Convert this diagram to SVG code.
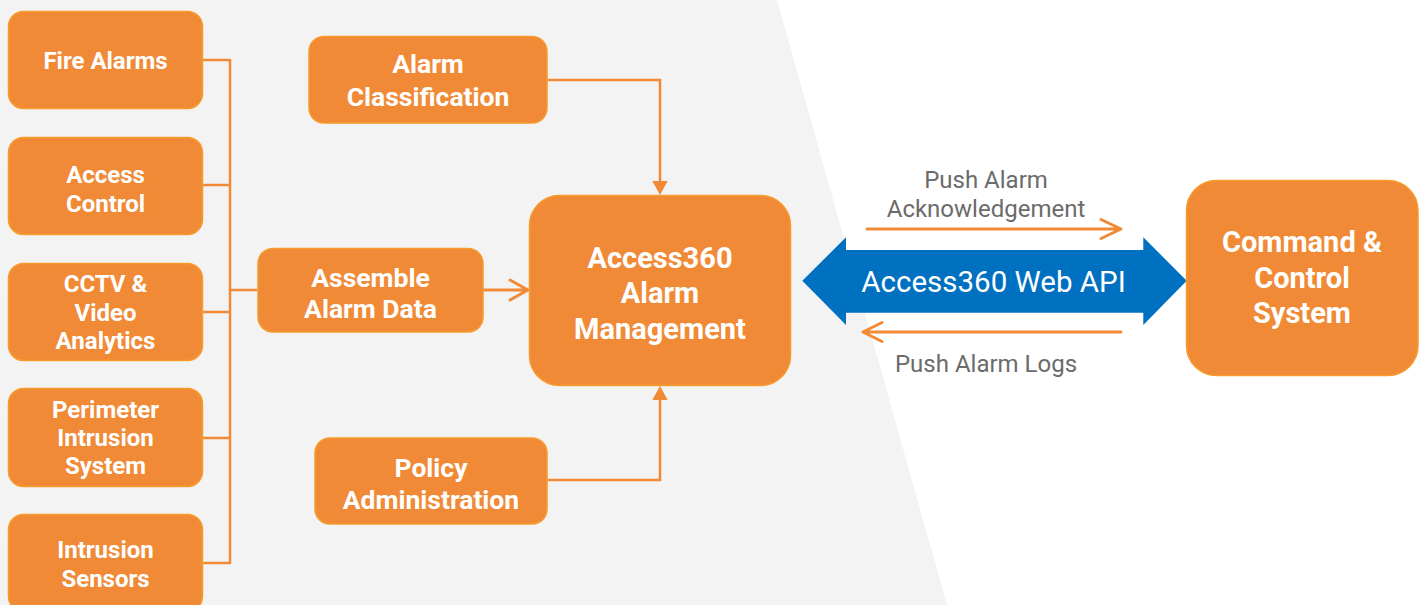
<svg xmlns="http://www.w3.org/2000/svg" width="1427" height="605" viewBox="0 0 1427 605">
<style>
.box{fill:#F18A36;stroke:#F79B2C;stroke-width:1.5}
.t{font-family:Roboto,"Liberation Sans",sans-serif;font-weight:bold;fill:#fff;text-anchor:middle}
.s{font-size:24px}
.m{font-size:26.5px}
.l{font-size:29px}
.lbl{font-family:Roboto,"Liberation Sans",sans-serif;font-size:24px;fill:#6b6b6b;text-anchor:middle}
.api{font-family:Roboto,"Liberation Sans",sans-serif;font-size:29.5px;fill:#fff;text-anchor:middle}
.ln{fill:none;stroke:#F18A36;stroke-width:2.5}
.ar{fill:none;stroke:#F18A36;stroke-width:3;stroke-linecap:round;stroke-linejoin:round}
.head{fill:#F18A36}
</style>
<rect width="1427" height="605" fill="#fff"/>
<polygon points="0,0 777,0 947,605 0,605" fill="#F3F3F3"/>

<g id="connectors">
<path class="ln" d="M203,60H230M203,185H230M203,312H230M203,438H230M203,563H230M230,59V564M230,290H257"/>
<path class="ln" d="M547,80H660V182"/>
<polygon class="head" points="652.3,181 667.7,181 660,195"/>
<path class="ln" d="M547,480H660V399"/>
<polygon class="head" points="652.3,400 667.7,400 660,386"/>
<path class="ar" d="M483,290H527M510,280L528,290L510,300"/>
<path class="ar" d="M867,229H1120M1101,219.5L1121,229L1101,238.5"/>
<path class="ar" d="M1121,332H864M882,322.5L863,332L882,341.5"/>
</g>

<g id="api">
<polygon points="802.3,280.7 846,237.3 846,250 1143.3,250 1143.3,237.3 1186.7,280.7 1143.3,325 1143.3,312.7 846,312.7 846,325" fill="#0070C0"/>
<text class="api" x="993.5" y="291.7">Access360 Web API</text>
<text class="lbl" x="986" y="188.3">Push Alarm</text>
<text class="lbl" x="986" y="217.3">Acknowledgement</text>
<text class="lbl" x="986" y="371.7">Push Alarm Logs</text>
</g>

<g id="fire-alarms">
<rect class="box" x="8.5" y="11.5" width="194" height="97" rx="15"/>
<text class="t s" x="105.5" y="69">Fire Alarms</text>
</g>
<g id="access-control">
<rect class="box" x="8.5" y="137.5" width="194" height="97" rx="15"/>
<text class="t s" x="105.5" y="183.3">Access</text>
<text class="t s" x="105.5" y="211.7">Control</text>
</g>
<g id="cctv">
<rect class="box" x="8.5" y="263.5" width="194" height="97" rx="15"/>
<text class="t s" x="105.5" y="292">CCTV &amp;</text>
<text class="t s" x="105.5" y="320.5">Video</text>
<text class="t s" x="105.5" y="349">Analytics</text>
</g>
<g id="perimeter">
<rect class="box" x="8.5" y="388.5" width="194" height="98" rx="15"/>
<text class="t s" x="105.5" y="417.7">Perimeter</text>
<text class="t s" x="105.5" y="446">Intrusion</text>
<text class="t s" x="105.5" y="474.3">System</text>
</g>
<g id="intrusion-sensors">
<rect class="box" x="8.5" y="514.5" width="194" height="97" rx="15"/>
<text class="t s" x="105.5" y="558.3">Intrusion</text>
<text class="t s" x="105.5" y="586.7">Sensors</text>
</g>

<g id="alarm-classification">
<rect class="box" x="309" y="36.5" width="238" height="86.5" rx="15"/>
<text class="t m" x="428" y="73.3">Alarm</text>
<text class="t m" x="428" y="106">Classification</text>
</g>
<g id="assemble">
<rect class="box" x="258" y="248.5" width="225" height="83.5" rx="15"/>
<text class="t m" x="370.5" y="286.7">Assemble</text>
<text class="t m" x="370.5" y="318.3">Alarm Data</text>
</g>
<g id="policy">
<rect class="box" x="315" y="438" width="232" height="86" rx="15"/>
<text class="t m" x="431" y="477.3">Policy</text>
<text class="t m" x="431" y="509.3">Administration</text>
</g>

<g id="alarm-management">
<rect class="box" x="529.5" y="195.5" width="261" height="190" rx="30"/>
<text class="t l" x="660" y="268.3">Access360</text>
<text class="t l" x="660" y="303.3">Alarm</text>
<text class="t l" x="660" y="339">Management</text>
</g>

<g id="command-control">
<rect class="box" x="1186.5" y="180.5" width="231.5" height="195" rx="30"/>
<text class="t l" x="1302" y="251.7">Command &amp;</text>
<text class="t l" x="1302" y="287.7">Control</text>
<text class="t l" x="1302" y="323">System</text>
</g>
</svg>
